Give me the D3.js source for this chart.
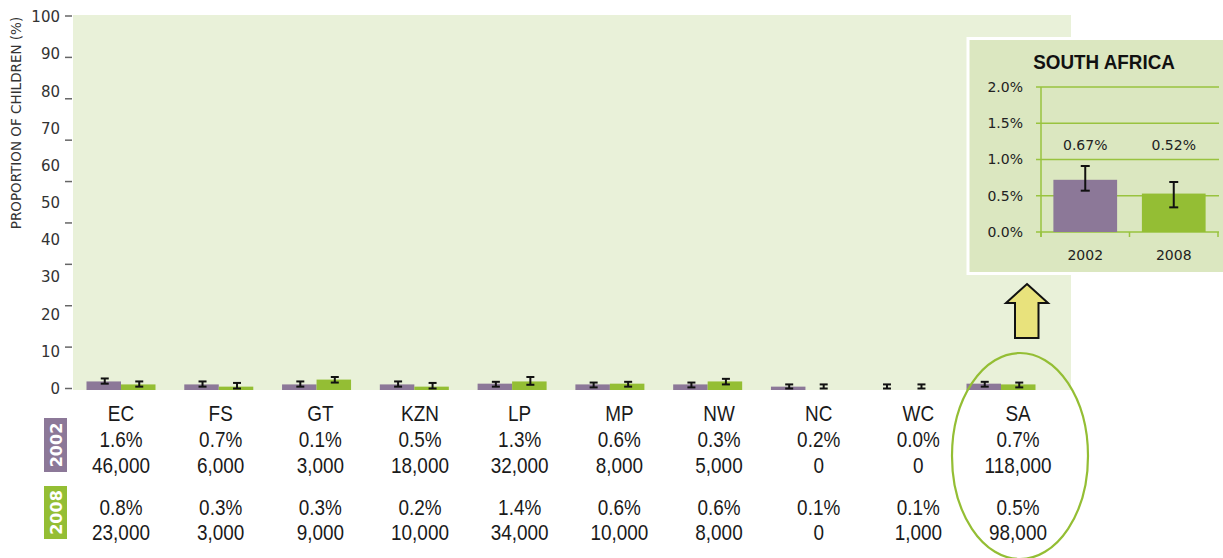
<!DOCTYPE html>
<html>
<head>
<meta charset="utf-8">
<script src="https://cdn.jsdelivr.net/npm/d3@7/dist/d3.min.js"></script>
<style>
  html, body { margin: 0; padding: 0; background: #ffffff; }
  svg { display: block; }
  .cond { font-family: "Liberation Sans Narrow", "Arial Narrow", "Liberation Sans", sans-serif; }
</style>
</head>
<body>
<svg id="chart" width="1223" height="558"></svg>
<script>
// ---------------- data ----------------
const categories = ["EC", "FS", "GT", "KZN", "LP", "MP", "NW", "NC", "WC", "SA"];
const years = ["2002", "2008"];

// bar heights (% of children) as drawn in the main panel
const bars2002 = [1.9, 1.1, 1.1, 1.1, 1.3, 1.1, 1.1, 0.5, 0.0, 1.3];
const bars2008 = [1.1, 0.5, 2.4, 0.5, 1.9, 1.3, 1.9, 0.0, 0.0, 1.1];
// error-bar bounds
const err2002Lo = [1.3, 0.5, 0.5, 0.5, 0.5, 0.3, 0.3, 0.0, 0.0, 0.5];
const err2002Hi = [2.7, 1.9, 1.9, 1.9, 1.8, 1.6, 1.6, 1.1, 1.1, 1.8];
const err2008Lo = [0.5, 0.0, 1.6, 0.0, 1.0, 0.5, 1.1, 0.0, 0.0, 0.3];
const err2008Hi = [1.9, 1.5, 3.1, 1.5, 3.1, 1.8, 2.6, 1.1, 1.1, 1.6];

// table rows
const pct2002 = ["1.6%", "0.7%", "0.1%", "0.5%", "1.3%", "0.6%", "0.3%", "0.2%", "0.0%", "0.7%"];
const count2002 = ["46,000", "6,000", "3,000", "18,000", "32,000", "8,000", "5,000", "0", "0", "118,000"];
const pct2008 = ["0.8%", "0.3%", "0.3%", "0.2%", "1.4%", "0.6%", "0.6%", "0.1%", "0.1%", "0.5%"];
const count2008 = ["23,000", "3,000", "9,000", "10,000", "34,000", "10,000", "8,000", "0", "1,000", "98,000"];

const yTicks = [0, 10, 20, 30, 40, 50, 60, 70, 80, 90, 100];
const yTitle = "PROPORTION OF CHILDREN (%)";

// inset (South Africa)
const insetTitle = "SOUTH AFRICA";
const insetYears = ["2002", "2008"];
const insetValues = [0.72, 0.53];
const insetErrLo = [0.57, 0.34];
const insetErrHi = [0.91, 0.69];
const insetLabels = ["0.67%", "0.52%"];
const insetTicks = [0, 0.5, 1.0, 1.5, 2.0];

// ---------------- styles ----------------
const C2002 = "#8c7898";
const C2008 = "#94be34";
const BG = "#e9f1d9";
const INSET_BG = "#dbe7c0";
const GRID = "#99c33f";
const TEXT = "#1a1a1a";
const DV = '"DejaVu Sans", Verdana, sans-serif';
const CONDX = 0.88;

const svg = d3.select("#chart");

// ---------------- main panel ----------------
const y = d3.scaleLinear().domain([0, 100]).range([388.5, 17]);
const xBar = d3.scalePoint().domain(categories).range([121, 1001]);
const xTab = d3.scalePoint().domain(categories).range([121, 1018]);
const barW = 34.5;

svg.append("rect")
  .attr("x", 73).attr("y", 15).attr("width", 998).attr("height", 375)
  .attr("fill", BG);

// y-axis labels
const yAxis = d3.axisLeft(y).tickValues(yTicks).tickSize(0).tickPadding(13);
const gy = svg.append("g").attr("transform", "translate(73,0)").call(yAxis);
gy.select(".domain").remove();
gy.selectAll("text")
  .style("font-family", DV)
  .style("font-size", "15px").attr("fill", "#333");

// tick marks (as in the source, 10 evenly spaced marks)
const tickIdx = d3.range(10);
const tickPos = d3.scaleLinear().domain([0, 9]).range([y(0), y(100) - 1]);
svg.append("g").selectAll("line").data(tickIdx).join("line")
  .attr("x1", 65).attr("x2", 72)
  .attr("y1", d => tickPos(d)).attr("y2", d => tickPos(d))
  .attr("stroke", "#666").attr("stroke-width", 1.5);

// y title
svg.append("text")
  .attr("transform", "translate(16," + 123 + ") rotate(-90)")
  .attr("text-anchor", "middle").attr("dy", "0.36em")
  .style("font-family", DV)
  .style("font-size", "13.5px").attr("fill", "#333")
  .text(yTitle);

// bars
const series = [
  { key: "2002", vals: bars2002, lo: err2002Lo, hi: err2002Hi, color: C2002, off: -barW },
  { key: "2008", vals: bars2008, lo: err2008Lo, hi: err2008Hi, color: C2008, off: 0 }
];
series.forEach(s => {
  const g = svg.append("g");
  g.selectAll("rect").data(categories.filter((d, i) => s.vals[i] > 0)).join("rect")
    .attr("x", d => xBar(d) + s.off)
    .attr("y", d => y(s.vals[categories.indexOf(d)]))
    .attr("width", barW)
    .attr("height", d => y(0) - y(s.vals[categories.indexOf(d)]) + 1.5)
    .attr("fill", s.color);
});
series.forEach(s => {
  const g = svg.append("g").attr("stroke", "#111").attr("stroke-width", 2);
  categories.forEach((c, i) => {
    const cx = xBar(c) + s.off + barW / 2 + 1;
    g.append("line").attr("x1", cx).attr("x2", cx).attr("y1", y(s.lo[i])).attr("y2", y(s.hi[i]));
    g.append("line").attr("x1", cx - 4).attr("x2", cx + 4).attr("y1", y(s.lo[i])).attr("y2", y(s.lo[i]));
    g.append("line").attr("x1", cx - 4).attr("x2", cx + 4).attr("y1", y(s.hi[i])).attr("y2", y(s.hi[i]));
  });
});

// ---------------- table ----------------
const rows = [
  { vals: categories, y: 413 },
  { vals: pct2002, y: 439.5 },
  { vals: count2002, y: 465 },
  { vals: pct2008, y: 507 },
  { vals: count2008, y: 532 }
];
rows.forEach(r => {
  svg.append("g").selectAll("text").data(categories).join("text")
    .attr("transform", d => "translate(" + xTab(d) + "," + r.y + ") scale(" + CONDX + ",1)")
    .attr("dy", "0.36em")
    .attr("text-anchor", "middle")
    .attr("class", "cond")
    .style("font-size", "21.5px")
    .attr("fill", TEXT)
    .text((d, i) => r.vals[i]);
});

// year tags
const tagY = d3.scaleOrdinal().domain(years).range([[418, 472], [486, 539]]);
const tagColor = d3.scaleOrdinal().domain(years).range([C2002, C2008]);
years.forEach(yr => {
  const [t, b] = tagY(yr);
  svg.append("rect").attr("x", 44).attr("y", t).attr("width", 23).attr("height", b - t)
    .attr("fill", tagColor(yr));
  svg.append("text")
    .attr("transform", "translate(56," + ((t + b) / 2) + ") rotate(-90)")
    .attr("text-anchor", "middle").attr("dy", "0.36em")
    .style("font-family", DV)
    .style("font-weight", "bold").style("font-size", "16px")
    .attr("fill", "#fff").text(yr);
});

// ellipse around SA
svg.append("ellipse")
  .attr("cx", 1020).attr("cy", 456).attr("rx", 68).attr("ry", 103)
  .attr("fill", "none").attr("stroke", C2008).attr("stroke-width", 2.2);

// arrow
const arrowPts = [[1027, 284], [1048, 303], [1038.5, 303], [1038.5, 338], [1015, 338], [1015, 303], [1006, 303]];
svg.append("path")
  .attr("d", d3.line()(arrowPts) + "Z")
  .attr("fill", "#e8e27c").attr("stroke", "#111").attr("stroke-width", 2)
  .attr("stroke-linejoin", "miter");

// ---------------- inset ----------------
svg.append("rect")
  .attr("x", 968).attr("y", 38.5).attr("width", 260).attr("height", 235)
  .attr("fill", INSET_BG).attr("stroke", "#ffffff").attr("stroke-width", 3);

svg.append("text")
  .attr("transform", "translate(1104,62) scale(0.92,1)")
  .attr("dy", "0.36em")
  .attr("text-anchor", "middle").attr("class", "cond")
  .style("font-weight", "bold").style("font-size", "20.5px")
  .attr("fill", "#111").text(insetTitle);

const iy = d3.scaleLinear().domain([0, 2]).range([232, 87]);
const ix = d3.scaleBand().domain(insetYears).range([1041, 1218]).paddingInner(0.28).paddingOuter(0.14);

// gridlines
svg.append("g").selectAll("line").data(insetTicks).join("line")
  .attr("x1", 1036).attr("x2", 1219)
  .attr("y1", d => iy(d)).attr("y2", d => iy(d))
  .attr("stroke", GRID).attr("stroke-width", 1.5);
// axis lines
svg.append("line").attr("x1", 1041).attr("x2", 1041).attr("y1", iy(2)).attr("y2", iy(0) + 5)
  .attr("stroke", GRID).attr("stroke-width", 1.5);
const xTickVals = [0, 1, 2].map(k => 1041 + k * ix.step());
svg.append("g").selectAll("line").data(xTickVals).join("line")
  .attr("x1", d => d).attr("x2", d => d).attr("y1", iy(0)).attr("y2", iy(0) + 5)
  .attr("stroke", GRID).attr("stroke-width", 1.5);

// inset y labels
const iAxis = d3.axisLeft(iy).tickValues(insetTicks).tickSize(0).tickPadding(18)
  .tickFormat(d => d.toFixed(1) + "%");
const giy = svg.append("g").attr("transform", "translate(1041,0)").call(iAxis);
giy.select(".domain").remove();
giy.selectAll("text")
  .style("font-family", DV)
  .style("font-size", "14px").attr("fill", "#222");

// inset bars
svg.append("g").selectAll("rect").data(insetYears).join("rect")
  .attr("x", d => ix(d))
  .attr("y", (d, i) => iy(insetValues[i]))
  .attr("width", ix.bandwidth())
  .attr("height", (d, i) => iy(0) - iy(insetValues[i]))
  .attr("fill", (d, i) => i === 0 ? C2002 : C2008);

const ieg = svg.append("g").attr("stroke", "#111").attr("stroke-width", 2);
insetYears.forEach((d, i) => {
  const cx = ix(d) + ix.bandwidth() / 2;
  ieg.append("line").attr("x1", cx).attr("x2", cx).attr("y1", iy(insetErrLo[i])).attr("y2", iy(insetErrHi[i]));
  ieg.append("line").attr("x1", cx - 4.5).attr("x2", cx + 4.5).attr("y1", iy(insetErrLo[i])).attr("y2", iy(insetErrLo[i]));
  ieg.append("line").attr("x1", cx - 4.5).attr("x2", cx + 4.5).attr("y1", iy(insetErrHi[i])).attr("y2", iy(insetErrHi[i]));
});

// value labels
svg.append("g").selectAll("text").data(insetYears).join("text")
  .attr("x", d => ix(d) + ix.bandwidth() / 2)
  .attr("y", 145).attr("dy", "0.36em")
  .attr("text-anchor", "middle")
  .style("font-family", DV)
  .style("font-size", "14px").attr("fill", "#222")
  .text((d, i) => insetLabels[i]);

// x labels
svg.append("g").selectAll("text").data(insetYears).join("text")
  .attr("x", d => ix(d) + ix.bandwidth() / 2)
  .attr("y", 255).attr("dy", "0.36em")
  .attr("text-anchor", "middle")
  .style("font-family", DV)
  .style("font-size", "14px").attr("fill", "#222")
  .text(d => d);
</script>
</body>
</html>
